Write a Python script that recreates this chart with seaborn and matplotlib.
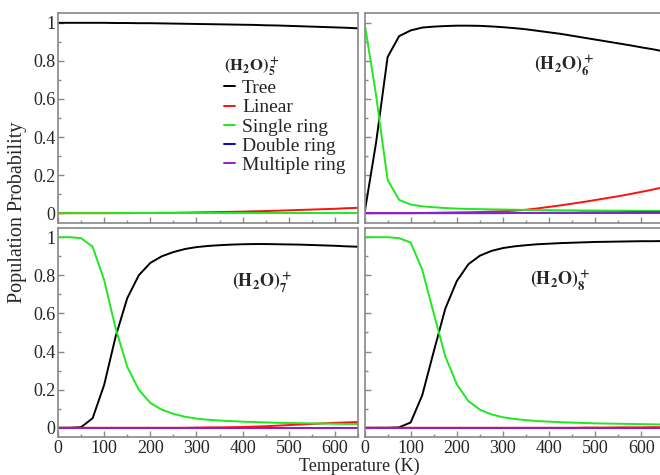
import numpy as np
import pandas as pd
import matplotlib.pyplot as plt
import seaborn as sns
from matplotlib.ticker import MultipleLocator, FuncFormatter
from matplotlib.lines import Line2D

# temperatures (K), sampled every 25 K
temperature = [0, 25, 50, 75, 100, 125, 150, 175, 200, 225, 250, 275, 300, 325,
               350, 375, 400, 425, 450, 475, 500, 525, 550, 575, 600, 625, 650]

structures = ['Tree', 'Linear', 'Single ring', 'Double ring', 'Multiple ring']
colors = ['#000000', '#ff1010', '#20e820', '#0000c8', '#9020d0']

# (H2O)5+
tree_5 = [1.0, 1.0, 1.0, 1.0, 1.0, 0.999, 0.999, 0.998, 0.998, 0.997, 0.996, 0.995, 0.994, 0.993,
          0.992, 0.991, 0.99, 0.989, 0.987, 0.986, 0.984, 0.982, 0.98, 0.978, 0.976, 0.974, 0.971]
linear_5 = [0.0, 0.0, 0.0, 0.0, 0.0, 0.0, 0.0, 0.001, 0.001, 0.002, 0.002, 0.003, 0.004, 0.005,
            0.006, 0.007, 0.008, 0.01, 0.011, 0.013, 0.015, 0.017, 0.019, 0.021, 0.023, 0.026, 0.028]
single_5 = [0.0, 0.0, 0.0, 0.0, 0.0, 0.001, 0.001, 0.001, 0.001, 0.001, 0.001, 0.001, 0.001, 0.001,
            0.001, 0.001, 0.001, 0.001, 0.001, 0.001, 0.001, 0.001, 0.001, 0.001, 0.001, 0.001, 0.001]

# (H2O)6+
tree_6 = [0.0, 0.37, 0.82, 0.93, 0.96, 0.975, 0.98, 0.983, 0.985, 0.985, 0.984, 0.981, 0.977, 0.972,
          0.966, 0.958, 0.95, 0.942, 0.932, 0.922, 0.912, 0.902, 0.892, 0.882, 0.871, 0.861, 0.849]
linear_6 = [0.0, 0.0, 0.0, 0.0, 0.0, 0.001, 0.002, 0.003, 0.004, 0.005, 0.006, 0.008, 0.01, 0.013,
            0.018, 0.025, 0.033, 0.041, 0.05, 0.059, 0.069, 0.079, 0.089, 0.1, 0.112, 0.124, 0.138]
single_6 = [1.0, 0.62, 0.175, 0.07, 0.045, 0.036, 0.031, 0.027, 0.024, 0.022, 0.021, 0.02, 0.019, 0.018,
            0.017, 0.016, 0.016, 0.015, 0.015, 0.014, 0.014, 0.013, 0.013, 0.013, 0.012, 0.012, 0.012]
double_6 = [0.0, 0.0, 0.0, 0.0, 0.0, 0.0, 0.0, 0.0, 0.0, 0.0, 0.0, 0.0, 0.0, 0.001,
            0.001, 0.001, 0.002, 0.002, 0.002, 0.003, 0.003, 0.003, 0.003, 0.004, 0.004, 0.004, 0.004]
multiple_6 = [0.0] * 27

# (H2O)7+
tree_7 = [0.0, 0.0, 0.003, 0.05, 0.225, 0.48, 0.68, 0.8, 0.865, 0.9, 0.922, 0.938, 0.948, 0.954,
          0.958, 0.961, 0.963, 0.964, 0.964, 0.963, 0.962, 0.961, 0.959, 0.957, 0.955, 0.952, 0.95]
linear_7 = [0.0, 0.0, 0.0, 0.0, 0.0, 0.0, 0.0, 0.0, 0.0, 0.0, 0.0, 0.0, 0.001, 0.002,
            0.002, 0.003, 0.004, 0.006, 0.008, 0.011, 0.014, 0.017, 0.02, 0.023, 0.026, 0.028, 0.03]
single_7 = [1.0, 1.0, 0.995, 0.95, 0.775, 0.52, 0.32, 0.2, 0.13, 0.095, 0.073, 0.058, 0.048, 0.042,
            0.038, 0.035, 0.032, 0.03, 0.028, 0.026, 0.025, 0.024, 0.023, 0.022, 0.021, 0.02, 0.02]
double_7 = [0.0] * 27
multiple_7 = [0.0] * 27

# (H2O)8+
tree_8 = [0.0, 0.0, 0.0, 0.002, 0.028, 0.17, 0.4, 0.625, 0.77, 0.858, 0.903, 0.928, 0.943, 0.952,
          0.958, 0.963, 0.966, 0.969, 0.971, 0.973, 0.975, 0.976, 0.977, 0.978, 0.979, 0.979, 0.98]
linear_8 = [0.0, 0.0, 0.0, 0.0, 0.0, 0.0, 0.0, 0.0, 0.0, 0.0, 0.0, 0.0, 0.0, 0.0,
            0.0, 0.0, 0.0, 0.0, 0.0, 0.001, 0.001, 0.001, 0.002, 0.002, 0.002, 0.003, 0.003]
single_8 = [1.0, 1.0, 1.0, 0.995, 0.972, 0.83, 0.6, 0.375, 0.228, 0.14, 0.095, 0.07, 0.055, 0.046,
            0.04, 0.035, 0.032, 0.029, 0.027, 0.025, 0.023, 0.022, 0.021, 0.02, 0.019, 0.018, 0.017]
double_8 = [0.0] * 27
multiple_8 = [0.0] * 27

panels = {
    5: {'Tree': tree_5, 'Linear': linear_5, 'Single ring': single_5},
    6: {'Tree': tree_6, 'Linear': linear_6, 'Single ring': single_6,
        'Double ring': double_6, 'Multiple ring': multiple_6},
    7: {'Tree': tree_7, 'Linear': linear_7, 'Single ring': single_7,
        'Double ring': double_7, 'Multiple ring': multiple_7},
    8: {'Tree': tree_8, 'Linear': linear_8, 'Single ring': single_8,
        'Double ring': double_8, 'Multiple ring': multiple_8},
}

rows = []
for n, series in panels.items():
    for name, vals in series.items():
        for t, p in zip(temperature, vals):
            rows.append({'n': n, 'Structure': name, 'T': t, 'P': p})
df = pd.DataFrame(rows)

sns.set_style("ticks")
plt.rcParams['font.family'] = ['Liberation Serif', 'DejaVu Serif']
plt.rcParams['mathtext.fontset'] = 'stix'

fig = plt.figure(figsize=(6.6, 4.75), dpi=100)
positions = {5: [0.0879, 0.5312, 0.4545, 0.4408],
             6: [0.5523, 0.5312, 0.4545, 0.4408],
             7: [0.0879, 0.0794, 0.4545, 0.4413],
             8: [0.5523, 0.0794, 0.4545, 0.4413]}
label_pos = {6: (432, 0.775), 7: (443, 0.76), 8: (425, 0.77)}
palette = dict(zip(structures, colors))

for n, pos in positions.items():
    ax = fig.add_axes(pos)
    sub = df[df['n'] == n]
    order = [s for s in structures if s in panels[n]]
    sns.lineplot(data=sub, x='T', y='P', hue='Structure', hue_order=order,
                 palette=palette, ax=ax, legend=False, linewidth=1.4, errorbar=None)
    ax.set_xlim(0, 650)
    ax.set_ylim(-0.05, 1.05)
    ax.set_xlabel('')
    ax.set_ylabel('')
    ax.xaxis.set_major_locator(MultipleLocator(100))
    ax.xaxis.set_minor_locator(MultipleLocator(50))
    ax.yaxis.set_major_locator(MultipleLocator(0.2))
    ax.yaxis.set_minor_locator(MultipleLocator(0.1))
    ax.yaxis.set_major_formatter(FuncFormatter(lambda v, _: f'{v:g}'))
    ax.tick_params(which='both', direction='in', color='#888888', labelsize=13, pad=2)
    ax.tick_params(which='major', length=4.5, width=1)
    ax.tick_params(which='minor', length=2.5, width=1)
    for sp in ax.spines.values():
        sp.set_color('#888888')
        sp.set_linewidth(1.2)
    if n in (6, 8):
        ax.tick_params(labelleft=False)
    if n in (5, 6):
        ax.tick_params(labelbottom=False)
    if n in label_pos:
        x, y = label_pos[n]
        ax.text(x, y, r'$\mathbf{(H_2O)_%d^+}$' % n, fontsize=13, ha='center', va='center')
    if n == 5:
        handles = [Line2D([], [], color=c, lw=1.4) for c in colors]
        leg = ax.legend(handles, structures, title=r'$\mathbf{(H_2O)_5^+}$',
                        loc='upper left', bbox_to_anchor=(0.555, 0.80), frameon=False,
                        fontsize=14, title_fontsize=12, handlelength=0.55,
                        handletextpad=0.35, labelspacing=0.08, borderpad=0,
                        borderaxespad=0, alignment='left')

fig.text(0.027, 0.554, 'Population Probability', rotation=90, ha='center', va='center',
         fontsize=14.5)
fig.text(0.545, 0.018, 'Temperature (K)', ha='center', va='center', fontsize=13)

fig.savefig('out.png', dpi=100)
